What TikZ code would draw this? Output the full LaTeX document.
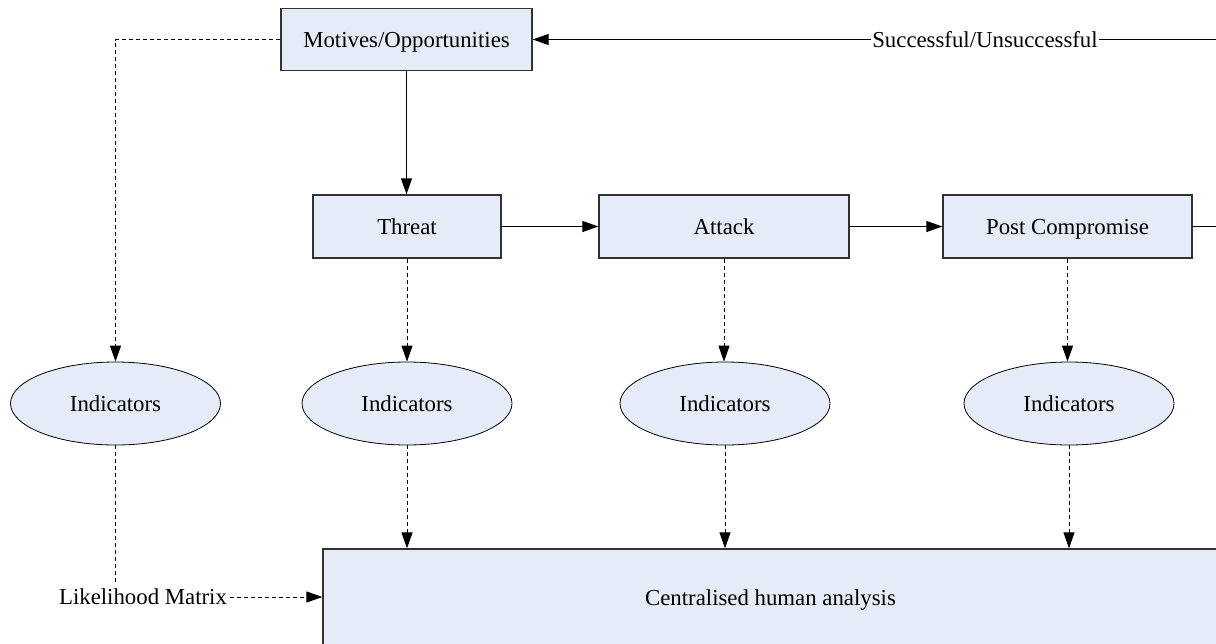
\documentclass[tikz,border=0pt]{standalone}
\usepackage{fontspec}
\setmainfont{Liberation Serif}
\usetikzlibrary{arrows.meta,shapes.geometric}
\definecolor{boxfill}{RGB}{229,236,247}
\definecolor{boxline}{RGB}{50,50,50}
\begin{document}
\begin{tikzpicture}[x=1pt,y=-1pt,
  txt/.style={font=\fontsize{22.8}{27}\selectfont, text=black,
              text height=15pt, text depth=0pt},
  stagebox/.style={txt, draw=boxline, line width=1.3pt, fill=boxfill,
                   minimum height=63pt, inner sep=0pt},
  indic/.style={txt, ellipse, draw=black, line width=0.8pt, fill=boxfill,
                minimum width=210pt, minimum height=83pt, inner sep=0pt},
  flow/.style={line width=1.1pt, -{Triangle[length=16pt,width=11pt]}},
  feed/.style={line width=1pt, dash pattern=on 4pt off 3pt,
               -{Triangle[length=16pt,width=11pt]}},
  feedline/.style={line width=1pt, dash pattern=on 4pt off 3pt},
  lbl/.style={txt, fill=white, inner sep=1pt}
]
\useasboundingbox (0,0) rectangle (1216,643);
\clip (0,0) rectangle (1216,643);

% stages
\node[stagebox, minimum width=251pt, minimum height=62pt] (motives) at (406.5,39.5) {Motives/Opportunities};
\node[stagebox, minimum width=188pt] (threat) at (407,226.5) {Threat};
\node[stagebox, minimum width=250pt] (attack) at (724,226.5) {Attack};
\node[stagebox, minimum width=249pt] (post) at (1067.5,226.5) {Post Compromise};

% indicator ellipses
\node[indic] (e1) at (115.5,403.5) {Indicators};
\node[indic] (e2) at (407,403.5) {Indicators};
\node[indic] (e3) at (725,403.5) {Indicators};
\node[indic] (e4) at (1069,403.5) {Indicators};

% analysis box
\node[stagebox, minimum width=895pt, minimum height=97pt] (central) at (770.5,597.5) {Centralised human analysis};

% likelihood label
\node[txt, inner sep=3pt] (lm) at (143,597) {Likelihood Matrix};
\coordinate (lmtop) at (115.5,583);

% main flow
\draw[flow] (motives.south) -- (motives.south |- threat.north);
\draw[flow] (threat.east) -- (attack.west);
\draw[flow] (attack.east) -- (post.west);

% feedback loop
\coordinate (fb) at (1240,39.5);
\draw[flow] (post.east) -| (fb) -- (motives.east);
\node[lbl] (succ) at (985,39.5) {Successful/Unsuccessful};

% indicator links
\draw[feed] (motives.west) -| (e1.north);
\draw[feed] (threat.south) -- (threat.south |- e2.north);
\draw[feed] (attack.south) -- (attack.south |- e3.north);
\draw[feed] (post.south) -- (post.south |- e4.north);

\draw[feed] (e2.south) -- (e2.south |- central.north);
\draw[feed] (e3.south) -- (e3.south |- central.north);
\draw[feed] (e4.south) -- (e4.south |- central.north);

\draw[feedline] (e1.south) -- (lmtop);
\draw[feed] (lm.east) -- (lm.east -| central.west);
\end{tikzpicture}
\end{document}
